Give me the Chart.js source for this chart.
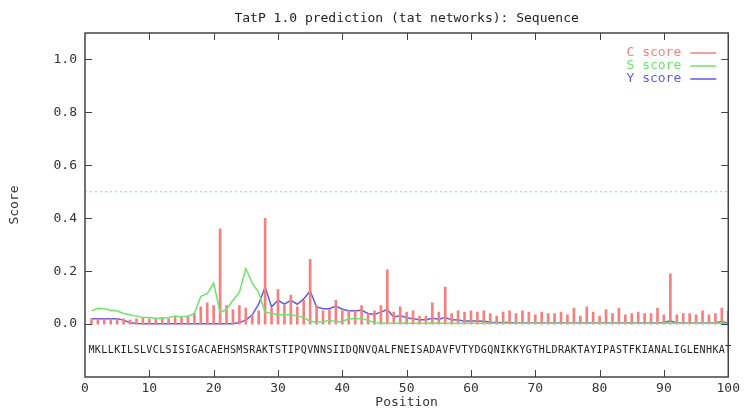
<!DOCTYPE html>
<html lang="en">
  <head>
    <meta charset="UTF-8" />
    <title>TatP 1.0 prediction</title>
    <script src="https://cdn.jsdelivr.net/npm/chart.js"></script>
    <style>
      body,
      html {
        margin: 0;
        background: #fff;
      }
      #wrap {
        width: 744px;
        height: 410px;
      }
    </style>
  </head>
  <body>
    <div id="wrap"><canvas id="myChart" width="744" height="410"></canvas></div>
    <script>
      // data
      const sequence = "MKLLKILSLVCLSISIGACAEHSMSRAKTSTIPQVNNSIIDQNVQALFNEISADAVFVTYDGQNIKKYGTHLDRAKTAYIPASTFKIANALIGLENHKAT";
      const positions = Array.from(sequence, (_, i) => i + 1);
      const cScore = [
        0.02, 0.02, 0.02, 0.02, 0.02, 0.02, 0.015, 0.02, 0.025, 0.02,
        0.02, 0.025, 0.02, 0.03, 0.025, 0.03, 0.04, 0.065, 0.08, 0.07,
        0.36, 0.07, 0.055, 0.07, 0.06, 0.035, 0.05, 0.40, 0.06, 0.13,
        0.07, 0.11, 0.065, 0.09, 0.245, 0.07, 0.05, 0.055, 0.09, 0.05,
        0.05, 0.05, 0.07, 0.04, 0.05, 0.07, 0.205, 0.045, 0.065, 0.045,
        0.05, 0.03, 0.03, 0.08, 0.045, 0.14, 0.04, 0.05, 0.045, 0.05,
        0.045, 0.05, 0.04, 0.03, 0.045, 0.05, 0.04, 0.05, 0.045, 0.035,
        0.045, 0.04, 0.04, 0.045, 0.035, 0.06, 0.03, 0.065, 0.045, 0.03,
        0.055, 0.04, 0.06, 0.035, 0.04, 0.045, 0.04, 0.04, 0.06, 0.035,
        0.19, 0.035, 0.04, 0.04, 0.035, 0.05, 0.035, 0.04, 0.06, 0.05
      ];
      const sScore = [
        0.05, 0.06, 0.058, 0.052, 0.05, 0.04, 0.035, 0.03, 0.025, 0.025,
        0.022, 0.022, 0.025, 0.03, 0.028, 0.03, 0.04, 0.105, 0.115, 0.155,
        0.045, 0.055, 0.09, 0.12, 0.21, 0.155, 0.12, 0.045, 0.04, 0.035,
        0.035, 0.035, 0.03, 0.025, 0.01, 0.008, 0.008, 0.015, 0.008, 0.01,
        0.02, 0.02, 0.02, 0.015, 0.005, 0.004, 0.003, 0.003, 0.004, 0.003,
        0.003, 0.003, 0.003, 0.004, 0.003, 0.003, 0.003, 0.003, 0.003, 0.003,
        0.003, 0.003, 0.003, 0.003, 0.003, 0.003, 0.003, 0.003, 0.003, 0.003,
        0.003, 0.003, 0.003, 0.003, 0.003, 0.003, 0.003, 0.003, 0.003, 0.003,
        0.003, 0.003, 0.003, 0.003, 0.003, 0.003, 0.003, 0.003, 0.003, 0.003,
        0.004, 0.003, 0.003, 0.003, 0.003, 0.003, 0.003, 0.003, 0.004, 0.002
      ];
      const yScore = [
        0.02, 0.02, 0.02, 0.02, 0.02, 0.015, 0.005, 0.002, 0.001, 0.001,
        0.001, 0.001, 0.001, 0.001, 0.001, 0.001, 0.001, 0.001, 0.001, 0.001,
        0.001, 0.001, 0.001, 0.006, 0.015, 0.035, 0.075, 0.14, 0.065, 0.09,
        0.075, 0.09, 0.075, 0.095, 0.125, 0.065, 0.058, 0.058, 0.068, 0.056,
        0.05, 0.05, 0.052, 0.04, 0.036, 0.045, 0.055, 0.026, 0.032, 0.024,
        0.02, 0.016, 0.016, 0.022, 0.018, 0.025, 0.016, 0.015, 0.012, 0.012,
        0.012, 0.011, 0.007, 0.006, 0.006, 0.006, 0.004, 0.004, 0.004, 0.004,
        0.004, 0.004, 0.004, 0.004, 0.004, 0.004, 0.004, 0.004, 0.004, 0.004,
        0.004, 0.004, 0.004, 0.004, 0.004, 0.004, 0.004, 0.004, 0.004, 0.006,
        0.012, 0.004, 0.004, 0.004, 0.004, 0.004, 0.004, 0.005, 0.01, 0.003
      ];
      const xRange = [0, 100];
      const yRange = [-0.2, 1.1];
      const yTickValues = [0, 0.2, 0.4, 0.6, 0.8, 1.0];
      const threshold = 0.5;
      const seqRow = -0.1; // where the residue letters sit, in score units

      const RED = "rgb(246,128,128)";
      const GREEN = "rgb(110,228,110)";
      const BLUE = "rgb(92,92,232)";
      const MONO = "'DejaVu Sans Mono', 'Liberation Mono', monospace";

      const legendItems = [
        { label: "C score", color: RED },
        { label: "S score", color: GREEN },
        { label: "Y score", color: BLUE },
      ];

      // gnuplot style box: frame, inward ticks, sequence letters, key
      const gnuFrame = {
        id: "gnuFrame",
        afterDatasetsDraw(chart) {
          const { ctx, chartArea: a, scales } = chart;
          const x = scales.x;
          const y = scales.y;
          ctx.save();

          // residues along the sequence row
          ctx.font = "10px " + MONO;
          ctx.fillStyle = "#222";
          ctx.textAlign = "center";
          ctx.textBaseline = "middle";
          const sy = y.getPixelForValue(seqRow);
          for (let i = 0; i < sequence.length; i++) {
            ctx.fillText(sequence[i], x.getPixelForValue(positions[i]), sy);
          }

          // frame
          ctx.strokeStyle = "#444";
          ctx.lineWidth = 1.5;
          ctx.strokeRect(a.left, a.top, a.right - a.left, a.bottom - a.top);

          // inward ticks
          const tl = 7;
          ctx.lineWidth = 1;
          ctx.beginPath();
          x.ticks.forEach((t) => {
            if (t.value <= xRange[0] || t.value >= xRange[1]) return;
            const px = Math.round(x.getPixelForValue(t.value)) + 0.5;
            ctx.moveTo(px, a.bottom);
            ctx.lineTo(px, a.bottom - tl);
            ctx.moveTo(px, a.top);
            ctx.lineTo(px, a.top + tl);
          });
          y.ticks.forEach((t) => {
            const py = Math.round(y.getPixelForValue(t.value)) + 0.5;
            ctx.moveTo(a.left, py);
            ctx.lineTo(a.left + tl, py);
            ctx.moveTo(a.right, py);
            ctx.lineTo(a.right - tl, py);
          });
          ctx.stroke();

          // key
          ctx.font = "13px " + MONO;
          ctx.textAlign = "right";
          legendItems.forEach((item, i) => {
            const ly = a.top + 20 + i * 13;
            ctx.fillStyle = item.color;
            ctx.fillText(item.label, a.right - 47, ly);
            ctx.strokeStyle = item.color;
            ctx.lineWidth = 1.5;
            ctx.beginPath();
            ctx.moveTo(a.right - 38, ly);
            ctx.lineTo(a.right - 12, ly);
            ctx.stroke();
          });
          ctx.restore();
        },
      };

      const ctx = document.getElementById("myChart").getContext("2d");
      new Chart(ctx, {
        type: "bar",
        data: {
          datasets: [
            {
              type: "line",
              label: "threshold",
              data: xRange.map((v) => ({ x: v, y: threshold })),
              borderColor: "rgb(130,215,205)",
              borderWidth: 1,
              borderDash: [2, 3],
              pointRadius: 0,
            },
            {
              type: "line",
              label: "S score",
              data: positions.map((p, i) => ({ x: p, y: sScore[i] })),
              borderColor: GREEN,
              borderWidth: 1.5,
              pointRadius: 0,
              tension: 0,
            },
            {
              type: "bar",
              label: "C score",
              data: positions.map((p, i) => ({ x: p, y: cScore[i] })),
              backgroundColor: RED,
              barThickness: 2,
            },
            {
              type: "line",
              label: "Y score",
              data: positions.map((p, i) => ({ x: p, y: yScore[i] })),
              borderColor: BLUE,
              borderWidth: 1.5,
              pointRadius: 0,
              tension: 0,
            },
          ],
        },
        options: {
          responsive: false,
          animation: false,
          layout: { padding: { right: 12 } },
          plugins: {
            legend: { display: false },
            tooltip: { enabled: false },
            title: {
              display: true,
              text: "TatP 1.0 prediction (tat networks): Sequence",
              fullSize: false,
              color: "#222",
              font: { family: MONO, size: 13, weight: "normal" },
              padding: { top: 11, bottom: 6.4 },
            },
          },
          scales: {
            x: {
              type: "linear",
              min: xRange[0],
              max: xRange[1],
              offset: false,
              grid: { display: false, drawTicks: false },
              border: { display: false },
              ticks: {
                stepSize: 10,
                maxRotation: 0,
                autoSkip: false,
                padding: 4,
                color: "#333",
                font: { family: MONO, size: 13 },
              },
              title: {
                display: true,
                text: "Position",
                color: "#333",
                font: { family: MONO, size: 13 },
                padding: { top: 0, bottom: 0 },
              },
              afterFit(scale) {
                scale.height = 33;
              },
            },
            y: {
              min: yRange[0],
              max: yRange[1],
              grid: { display: false, drawTicks: false },
              border: { display: false },
              afterBuildTicks(scale) {
                scale.ticks = yTickValues.map((v) => ({ value: v }));
              },
              ticks: {
                padding: 8,
                color: "#333",
                font: { family: MONO, size: 13 },
                callback: (v) => Number(v).toFixed(1),
              },
              title: {
                display: true,
                text: "Score",
                color: "#333",
                font: { family: MONO, size: 13 },
                padding: { top: 7, bottom: 0 },
              },
              afterFit(scale) {
                scale.width = 85;
              },
            },
          },
        },
        plugins: [gnuFrame],
      });
    </script>
  </body>
</html>
